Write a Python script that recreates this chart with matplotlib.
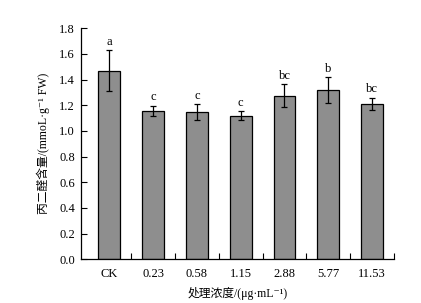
import matplotlib
matplotlib.use("Agg")
import matplotlib.pyplot as plt
import numpy as np

# data
categories = ["CK", "0.23", "0.58", "1.15", "2.88", "5.77", "11.53"]
mda = [1.47, 1.155, 1.148, 1.12, 1.275, 1.317, 1.21]
err = [0.16, 0.04, 0.06, 0.035, 0.09, 0.10, 0.05]
letters = ["a", "c", "c", "c", "bc", "b", "bc"]

plt.rcParams["font.family"] = ["Liberation Serif", "Noto Sans CJK SC", "DejaVu Sans"]
plt.rcParams["font.size"] = 9

fig = plt.figure(figsize=(4.21, 3.03), dpi=100)
ax = fig.add_axes([0.1917, 0.1442, 0.7443, 0.7624])

x = np.arange(len(categories))
ax.bar(x, mda, width=0.5, color="#8e8e8e", edgecolor="black", linewidth=0.9,
       yerr=err, error_kw=dict(ecolor="black", elinewidth=0.9, capsize=2.2, capthick=0.9))

# significance letters above the error bars
for xi, v, e, lab in zip(x, mda, err, letters):
    ax.text(xi, v + e + 0.02, lab, ha="center", va="bottom", fontsize=9)

ax.set_xlim(-0.65, 6.5)
ax.set_ylim(0, 1.8)
ax.set_yticks(np.arange(0, 1.81, 0.2))
ax.set_yticklabels([f"{t:.1f}" for t in np.arange(0, 1.81, 0.2)])

# category labels under the bars, ticks between them
ax.set_xticks(x)
ax.set_xticklabels(categories)
ax.tick_params(axis="x", which="major", length=0, labelsize=9, pad=6)
ax.set_xticks(np.arange(0.5, 7.0, 1.0), minor=True)
ax.tick_params(axis="x", which="minor", direction="in", length=4, width=0.8)
ax.tick_params(axis="y", direction="in", length=4, width=0.8, labelsize=9, pad=4)

ax.spines[["top", "right"]].set_visible(False)
ax.spines[["left", "bottom"]].set_linewidth(0.9)

ax.set_ylabel("丙二醛含量/(mmoL·g⁻¹ FW)", fontsize=8.5, labelpad=7)
ax.set_xlabel("处理浓度/(μg·mL⁻¹)", fontsize=8.5, labelpad=5)

fig.savefig("out.png", dpi=100)
